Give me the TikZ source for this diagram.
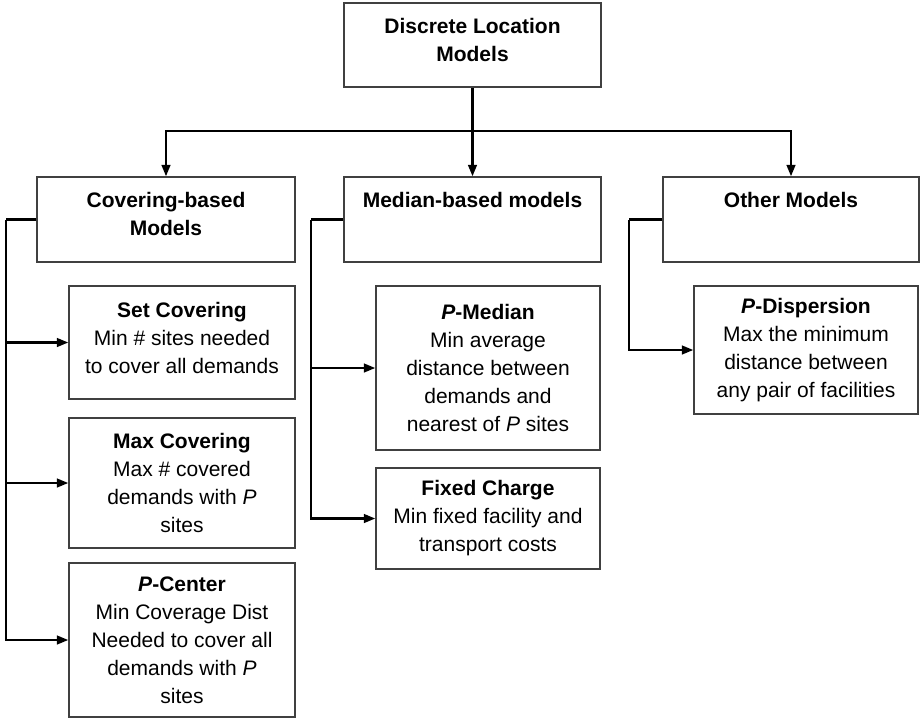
\documentclass[tikz,border=0pt]{standalone}
\usepackage{fontspec}
\setmainfont{Liberation Sans}
\usetikzlibrary{arrows.meta}
\begin{document}
\begin{tikzpicture}[x=0.75pt,y=-0.75pt,
  box/.style={draw=black!75, line width=1.1pt, inner sep=0pt, fill=white},
  hdrbox/.style={box, minimum width=193.5pt, minimum height=63.75pt},
  hdrtext/.style={anchor=north, inner sep=0pt, align=center,
    font=\fontsize{15.75}{21}\selectfont\bfseries},
  body/.style={box, align=center, minimum width=169.5pt,
    font=\fontsize{15.75}{21}\selectfont},
  link/.style={line width=1.6pt, draw=black},
  arr/.style={link, -{Triangle[length=8.5pt,width=6.5pt]}}
]
\useasboundingbox (0,0) rectangle (921,719);

% root
\node[box, minimum width=192.75pt, minimum height=63pt] (root) at (472.5,45) {};
\node[hdrtext] (roottxt) at (472.5,18.5) {Discrete Location\\Models};

% model families
\node[hdrbox] (cov) at (166,219.5) {};
\node[hdrtext] (covtxt) at (166,192.5) {Covering-based\\Models};
\node[hdrbox, minimum width=192.75pt] (med) at (472.5,219.5) {};
\node[hdrtext] (medtxt) at (472.5,192.5) {Median-based models};
\node[hdrbox, minimum width=192pt] (oth) at (791,219.5) {};
\node[hdrtext] (othtxt) at (791,192.5) {Other Models};

% covering-based models
\node[body, minimum height=84.75pt] (sc) at (182,342.5)
  {\textbf{Set Covering}\\Min \# sites needed\\to cover all demands\\[-13.5pt]};
\node[body, minimum height=97.5pt] (mc) at (182,483)
  {\textbf{Max Covering}\\Max \# covered\\demands with \textit{P}\\sites};
\node[body, minimum height=115.5pt] (pc) at (182,640)
  {\textbf{\textit{P}-Center}\\Min Coverage Dist\\Needed to cover all\\demands with \textit{P}\\sites};

% median-based models
\node[body, minimum width=168pt, minimum height=123pt] (pm) at (488,368)
  {\textbf{\textit{P}-Median}\\Min average\\distance between\\demands and\\nearest of \textit{P} sites};
\node[body, minimum width=168pt, minimum height=75.75pt] (fc) at (488,518.5)
  {\textbf{Fixed Charge}\\Min fixed facility and\\transport costs};

% other models
\node[body, minimum width=168pt, minimum height=96pt] (pd) at (806,350)
  {\textbf{\textit{P}-Dispersion}\\Max the minimum\\distance between\\any pair of facilities};

% root to families
\coordinate (bus) at (472.5,131);
\draw[link] (root.south) -- (bus);
\draw[arr] (bus) -- (med.north);
\draw[arr] (bus) -| (cov.north);
\draw[arr] (bus) -| (oth.north);

% covering branch
\coordinate (covsp) at (6,219.5);
\draw[link] (cov.west) -- (covsp);
\draw[arr] (covsp) |- (sc.west);
\draw[arr] (covsp) |- (mc.west);
\draw[arr] (covsp) |- (pc.west);

% median branch
\coordinate (medsp) at (311,219.5);
\draw[link] (med.west) -- (medsp);
\draw[arr] (medsp) |- (pm.west);
\draw[arr] (medsp) |- (fc.west);

% other branch
\coordinate (othsp) at (629,219.5);
\draw[link] (oth.west) -- (othsp);
\draw[arr] (othsp) |- (pd.west);
\end{tikzpicture}
\end{document}
